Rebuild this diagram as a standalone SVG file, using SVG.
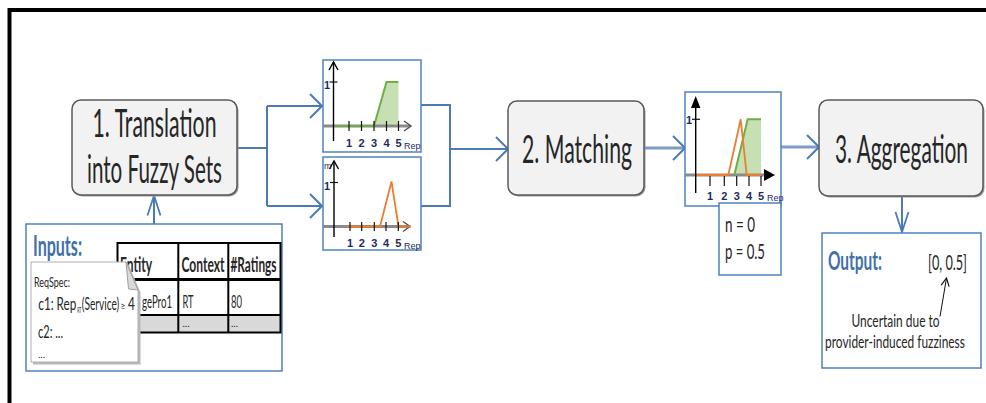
<svg xmlns="http://www.w3.org/2000/svg" width="986" height="403" viewBox="0 0 986 403">
<defs>
<style>
.node rect.b{fill:#f2f2f2;stroke:#5a5a5a;stroke-width:1.5}
.node rect.s{fill:#9a9a9a}
.nt{font-family:Lato,"Liberation Sans",sans-serif;font-size:38px;fill:#262626}
.con{fill:none;stroke:#4a7cb3;stroke-width:2}
.con .thick{stroke:#7a9cc6;stroke-width:3}
.panel{fill:#fff;stroke:#4f81bd;stroke-width:1.5}
.ax{stroke:#000;stroke-width:1.4;fill:none}
.xax{stroke:#8a8a8a;stroke-width:3}
.tk{stroke:#111;stroke-width:1.2}
.tl{font-family:"Liberation Sans",sans-serif;font-size:11px;font-weight:bold;fill:#1f2a5f;text-anchor:middle}
.rep{font-family:"Liberation Sans",sans-serif;font-size:9px;fill:#1f2a5f}
.gfill{fill:#c6e0b4;stroke:none}
.gl{fill:none;stroke:#70ad47;stroke-width:2}
.ol{fill:none;stroke:#ed7d31;stroke-width:1.8}
.t{font-family:Lato,"Liberation Sans",sans-serif;fill:#262626}
.hdr{font-family:Lato,"Liberation Sans",sans-serif;font-weight:bold;fill:#3f70aa}
.tb{stroke:#000;stroke-width:2;fill:none}
</style>
<marker id="arrH" markerUnits="userSpaceOnUse" viewBox="0 0 14 26" refX="13" refY="13" markerWidth="14" markerHeight="26" orient="auto">
<path d="M1,1 L13,13 L1,25" fill="none" stroke="#4a7cb3" stroke-width="2"/>
</marker>
<marker id="arrV" markerUnits="userSpaceOnUse" viewBox="0 0 22 16" refX="21" refY="8" markerWidth="22" markerHeight="16" orient="auto">
<path d="M1,1.5 L21,8 L1,14.5" fill="none" stroke="#4a7cb3" stroke-width="1.8"/>
</marker>
<marker id="arrS" markerUnits="userSpaceOnUse" viewBox="0 0 10 10" refX="9" refY="5" markerWidth="10" markerHeight="10" orient="auto">
<path d="M1,1 L9,5 L1,9" fill="none" stroke="#111" stroke-width="1.2"/>
</marker>
</defs>

<rect width="986" height="403" fill="#fff"/>
<!-- frame -->
<path d="M9.5,403 V10 H986" fill="none" stroke="#000" stroke-width="4"/>

<!-- connectors -->
<g id="connectors" class="con">
<path d="M237,148 H267 M267,106 V206"/>
<path d="M267,106 H322" marker-end="url(#arrH)"/>
<path d="M267,206 H322" marker-end="url(#arrH)"/>
<path d="M421,105 H450 V206 H421"/>
<path d="M450,149 H508" marker-end="url(#arrH)"/>
<path class="thick" d="M644,148 H685" marker-end="url(#arrH)"/>
<path class="thick" d="M781,147 H819" marker-end="url(#arrH)"/>
<path d="M902,196 V232" marker-end="url(#arrV)"/>
<path d="M154,224 V195.5" marker-end="url(#arrV)"/>
</g>

<!-- node 1 -->
<g id="n1" class="node">
<rect class="s" x="73.5" y="101.5" width="165" height="95" rx="9"/>
<rect class="b" x="72" y="100" width="165" height="95" rx="9"/>
<text class="nt" transform="translate(92.5,136.5) scale(0.58,1)" textLength="213.8" lengthAdjust="spacingAndGlyphs">1. Translation</text>
<text class="nt" transform="translate(87,183) scale(0.58,1)" textLength="232.8" lengthAdjust="spacingAndGlyphs">into Fuzzy Sets</text>
</g>

<!-- node 2 -->
<g id="n2" class="node">
<rect class="s" x="509.5" y="102.5" width="136" height="94" rx="9"/>
<rect class="b" x="508" y="101" width="136" height="94" rx="9"/>
<text class="nt" transform="translate(522,163) scale(0.58,1)" textLength="189.7" lengthAdjust="spacingAndGlyphs">2. Matching</text>
</g>

<!-- node 3 -->
<g id="n3" class="node">
<rect class="s" x="820.5" y="101.5" width="164" height="96" rx="9"/>
<rect class="b" x="819" y="100" width="164" height="96" rx="9"/>
<text class="nt" transform="translate(835,163) scale(0.58,1)" textLength="229.3" lengthAdjust="spacingAndGlyphs">3. Aggregation</text>
</g>

<!-- chart 1 -->
<g id="chart1">
<rect class="panel" x="323" y="60" width="98" height="92"/>
<polygon class="gfill" points="374,126 386.5,82 398.5,82 398.5,126"/>
<line class="xax" x1="323" y1="126" x2="410" y2="126"/>
<path d="M404,121 L411,126 L404,131" fill="none" stroke="#555" stroke-width="1.5"/>
<polyline class="gl" points="335,126 374,126 386.5,82 398.5,82"/>
<line class="ax" x1="333.5" y1="141" x2="333.5" y2="62"/>
<path class="ax" d="M329,70 L333.5,62 L338,70"/>
<line class="tk" x1="329.5" y1="82" x2="337.5" y2="82"/>
<text class="tl" x="327" y="89" font-size="10">1</text>
<g class="tk"><line x1="349" y1="121" x2="349" y2="131"/><line x1="361.5" y1="121" x2="361.5" y2="131"/><line x1="374" y1="121" x2="374" y2="131"/><line x1="386.5" y1="121" x2="386.5" y2="131"/><line x1="398.5" y1="121" x2="398.5" y2="131"/></g>
<text class="tl" x="349" y="146.5">1</text><text class="tl" x="361.5" y="146.5">2</text><text class="tl" x="374" y="146.5">3</text><text class="tl" x="386.5" y="146.5">4</text><text class="tl" x="398.5" y="146.5">5</text>
<text class="rep" x="404" y="149">Rep</text>
</g>

<!-- chart 2 -->
<g id="chart2">
<rect class="panel" x="323" y="157" width="98" height="93"/>
<line class="xax" x1="323" y1="226.5" x2="409" y2="226.5"/>
<path d="M403,221.5 L410,226.5 L403,231.5" fill="none" stroke="#555" stroke-width="1.5"/>
<polyline class="ol" points="347,226.5 380,226.5 391.5,181.5 398.5,226.5 411,226.5"/>
<line class="ax" x1="334" y1="237" x2="334" y2="161"/>
<path class="ax" d="M329.5,169 L334,161 L338.5,169"/>
<line class="tk" x1="330" y1="182.5" x2="338" y2="182.5"/>
<text class="tl" x="327" y="190" font-size="10">1</text>
<text class="rep" x="324" y="169" font-size="7">m</text>
<g class="tk"><line x1="350" y1="222" x2="350" y2="231"/><line x1="361.7" y1="222" x2="361.7" y2="231"/><line x1="374.3" y1="222" x2="374.3" y2="231"/><line x1="386" y1="222" x2="386" y2="231"/><line x1="398.3" y1="222" x2="398.3" y2="231"/></g>
<text class="tl" x="350" y="247">1</text><text class="tl" x="361.7" y="247">2</text><text class="tl" x="374.3" y="247">3</text><text class="tl" x="386" y="247">4</text><text class="tl" x="398.3" y="247">5</text>
<text class="rep" x="404" y="249">Rep</text>
</g>

<!-- chart 3 -->
<g id="chart3">
<rect class="panel" x="685" y="92" width="96" height="114"/>
<polygon class="gfill" points="734.3,175 747.7,119.3 761,119.3 761,175"/>
<line class="xax" x1="685" y1="175" x2="766" y2="175"/>
<polygon points="764,169 775,175 764,181" fill="#000"/>
<polyline class="gl" points="734.3,175 747.7,119.3 761,119.3"/>
<polyline class="ol" points="695.7,175 728.3,175 740.7,119.3 746.7,175 761,175"/>
<line class="ax" x1="695.7" y1="193" x2="695.7" y2="104"/>
<polygon points="695.7,96 691,108 700.4,108" fill="#000"/>
<line class="tk" x1="692" y1="119.3" x2="700" y2="119.3"/>
<text class="tl" x="689" y="124" font-size="10">1</text>
<g class="tk"><line x1="710" y1="176" x2="710" y2="186"/><line x1="724.3" y1="176" x2="724.3" y2="186"/><line x1="736.7" y1="176" x2="736.7" y2="186"/><line x1="749" y1="176" x2="749" y2="186"/><line x1="761" y1="176" x2="761" y2="186"/></g>
<text class="tl" x="710" y="199.5">1</text><text class="tl" x="724.3" y="199.5">2</text><text class="tl" x="736.7" y="199.5">3</text><text class="tl" x="749" y="199.5">4</text><text class="tl" x="761" y="199.5">5</text>
<text class="rep" x="767" y="200.5" font-size="8">Rep</text>
</g>

<!-- n/p box -->
<g id="np">
<rect class="panel" x="719" y="203" width="62" height="72"/>
<text class="t" font-size="21" transform="translate(725,232) scale(0.68,1)" textLength="44.1" lengthAdjust="spacingAndGlyphs">n = 0</text>
<text class="t" font-size="21" transform="translate(725,259) scale(0.68,1)" textLength="58.8" lengthAdjust="spacingAndGlyphs">p = 0.5</text>
</g>

<!-- inputs -->
<g id="inputs">
<rect class="panel" x="26" y="224" width="256" height="147"/>
<text class="hdr" font-size="28" transform="translate(33,256) scale(0.57,1)" textLength="86" lengthAdjust="spacingAndGlyphs">Inputs:</text>
<rect x="117.5" y="315" width="163" height="17.5" fill="#d9d9d9"/>
<g class="tb">
<rect x="117.5" y="243" width="163" height="89.5"/>
<line x1="117.5" y1="279.5" x2="280.5" y2="279.5" stroke-width="3"/>
<line x1="117.5" y1="315" x2="280.5" y2="315"/>
<line x1="178.3" y1="243" x2="178.3" y2="332.5"/>
<line x1="228.3" y1="243" x2="228.3" y2="332.5"/>
</g>
<text class="t" font-size="20" font-weight="bold" transform="translate(120,272) scale(0.6,1)" textLength="53.3" lengthAdjust="spacingAndGlyphs">Entity</text>
<text class="t" font-size="20" font-weight="bold" transform="translate(181.5,272) scale(0.6,1)" textLength="71.7" lengthAdjust="spacingAndGlyphs">Context</text>
<text class="t" font-size="20" font-weight="bold" transform="translate(230.5,272) scale(0.6,1)" textLength="76.7" lengthAdjust="spacingAndGlyphs">#Ratings</text>
<text class="t" font-size="18" transform="translate(142,308) scale(0.52,1)" textLength="57.7" lengthAdjust="spacingAndGlyphs">gePro1</text>
<text class="t" font-size="18" transform="translate(182.5,308) scale(0.52,1)" textLength="21.2" lengthAdjust="spacingAndGlyphs">RT</text>
<text class="t" font-size="18" transform="translate(231,308) scale(0.52,1)" textLength="21.2" lengthAdjust="spacingAndGlyphs">80</text>
<text class="t" x="182.5" y="327" font-size="10" fill="#666">...</text>
<text class="t" x="231" y="327" font-size="10" fill="#666">...</text>
</g>

<!-- ReqSpec note -->
<g id="reqspec">
<path d="M33,264.5 H128.5 L140.5,292.5 V364.5 H33 Z" fill="#b8b8b8"/>
<path d="M31,262 H126 L138,290 V362 H31 Z" fill="#fff" stroke="#b0b0b0" stroke-width="1"/>
<path d="M126,262 L128.5,289 L138,290 Z" fill="#d9d9d9" stroke="#a0a0a0" stroke-width="1"/>
<text class="t" font-size="13" fill="#3b1f1f" transform="translate(34,287) scale(0.7,1)" textLength="51.4" lengthAdjust="spacingAndGlyphs">ReqSpec:</text>
<text class="t" font-size="17" transform="translate(38.3,310) scale(0.65,1)" textLength="58.5" lengthAdjust="spacingAndGlyphs">c1: Rep</text>
<text class="t" font-size="7" transform="translate(77.2,313) scale(0.65,1)" textLength="6.5" lengthAdjust="spacingAndGlyphs">RT</text>
<text class="t" font-size="17" transform="translate(81.8,310) scale(0.6,1)" textLength="62.5" lengthAdjust="spacingAndGlyphs">(Service)</text>
<text class="t" x="120.5" y="309" font-size="9" fill="#888">≥</text>
<text class="t" font-size="17" transform="translate(128,310) scale(0.7,1)">4</text>
<text class="t" font-size="17" transform="translate(38,338) scale(0.65,1)" textLength="38.5" lengthAdjust="spacingAndGlyphs">c2: ...</text>
<text class="t" x="38" y="358" font-size="10" fill="#555">...</text>
</g>

<!-- output -->
<g id="output">
<rect class="panel" x="822" y="233" width="159" height="135"/>
<text class="hdr" font-size="26" transform="translate(828,270) scale(0.6,1)" textLength="90" lengthAdjust="spacingAndGlyphs">Output:</text>
<text class="t" font-size="22" transform="translate(928,270) scale(0.6,1)" textLength="65" lengthAdjust="spacingAndGlyphs">[0, 0.5]</text>
<line x1="940" y1="316.5" x2="946.5" y2="278" stroke="#111" stroke-width="1" marker-end="url(#arrS)"/>
<text class="t" font-size="17" text-anchor="middle" transform="translate(895.5,326.7) scale(0.74,1)" textLength="119" lengthAdjust="spacingAndGlyphs">Uncertain due to</text>
<text class="t" font-size="17" text-anchor="middle" transform="translate(895,348) scale(0.74,1)" textLength="189" lengthAdjust="spacingAndGlyphs">provider-induced fuzziness</text>
</g>
</svg>
